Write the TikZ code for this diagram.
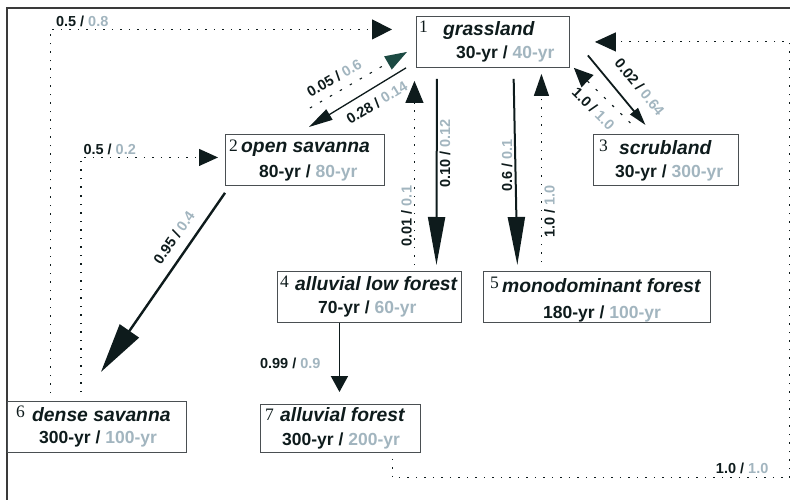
\documentclass[tikz,border=0pt]{standalone}
\usepackage{fontspec}
\setmainfont{Liberation Sans}
\newfontfamily\numserif{Liberation Serif}
\usetikzlibrary{arrows.meta}
\definecolor{inkdark}{HTML}{0E1B1C}
\definecolor{agegray}{HTML}{A2B5BF}
\definecolor{headgreen}{HTML}{1C4A43}
\definecolor{boxline}{HTML}{4A4F52}
\definecolor{framegray}{HTML}{3A3A3A}

\begin{document}
\begin{tikzpicture}[
  x=1pt, y=-1pt,
  statebox/.style={
    draw=boxline,
    line width=0.9pt,
    inner sep=0pt,
    anchor=north west
  },
  numtext/.style={font=\numserif\fontsize{17.5}{17.5}\selectfont, inner sep=0pt, anchor=base west, text=inkdark},
  nametext/.style={font=\bfseries\itshape\fontsize{19.3}{19.3}\selectfont, inner sep=0pt, anchor=base west, text=inkdark},
  agetext/.style={font=\bfseries\fontsize{17.5}{17.5}\selectfont, inner sep=0pt, anchor=base west, text=inkdark},
  ratelbl/.style={font=\bfseries\fontsize{14.5}{14.5}\selectfont, inner sep=2pt, text=inkdark},
  solidarrow/.style={draw=inkdark, fill=inkdark},
  dotline/.style={draw=inkdark, line width=1.1pt, dash pattern=on 1.5pt off 7pt},
  dashline/.style={draw=inkdark, line width=1.1pt, dash pattern=on 2.5pt off 9pt},
  framerule/.style={draw=framegray, line width=1.3pt}
]
\useasboundingbox (0,0) rectangle (790,500);

  % --- Frame ---
  \draw[framerule] (7,500) -- (7,8) -- (790,8);

  % --- 1: grassland ---
  \node[statebox, minimum width=153pt, minimum height=51pt] (grass) at (416,16) {};
  \node[numtext] (grassnum) at (419,33) {1};
  \node[nametext] (grassname) at (443,36) {grassland};
  \node[agetext] (grassage) at (456,59) {30-yr / \textcolor{agegray}{40-yr}};

  % --- 2: open savanna ---
  \node[statebox, minimum width=159pt, minimum height=51pt] (opensav) at (225,134) {};
  \node[numtext] (opensavnum) at (229,152) {2};
  \node[nametext] (opensavname) at (241,153) {open savanna};
  \node[agetext] (opensavage) at (259,178) {80-yr / \textcolor{agegray}{80-yr}};

  % --- 3: scrubland ---
  \node[statebox, minimum width=145pt, minimum height=51pt] (scrub) at (593,134) {};
  \node[numtext] (scrubnum) at (599,152) {3};
  \node[nametext] (scrubname) at (619,155) {scrubland};
  \node[agetext] (scrubage) at (615,178) {30-yr / \textcolor{agegray}{300-yr}};

  % --- 4: alluvial low forest ---
  \node[statebox, minimum width=184pt, minimum height=51pt] (lowfor) at (277,271) {};
  \node[numtext] (lowfornum) at (280,287) {4};
  \node[nametext] (lowforname) at (295,290) {alluvial low forest};
  \node[agetext] (lowforage) at (318,313) {70-yr / \textcolor{agegray}{60-yr}};

  % --- 5: monodominant forest ---
  \node[statebox, minimum width=227pt, minimum height=51pt] (monofor) at (483,271) {};
  \node[numtext] (monofornum) at (490,288) {5};
  \node[nametext] (monoforname) at (502,292) {monodominant forest};
  \node[agetext] (monoforage) at (543,318) {180-yr / \textcolor{agegray}{100-yr}};

  % --- 6: dense savanna ---
  \node[statebox, minimum width=179pt, minimum height=51pt] (densesav) at (7,401) {};
  \node[numtext] (densesavnum) at (16,417) {6};
  \node[nametext] (densesavname) at (32,421) {dense savanna};
  \node[agetext] (densesavage) at (39,443) {300-yr / \textcolor{agegray}{100-yr}};

  % --- 7: alluvial forest ---
  \node[statebox, minimum width=160pt, minimum height=48pt] (allufor) at (260,404) {};
  \node[numtext] (allufornum) at (265,420) {7};
  \node[nametext] (alluforname) at (280,421) {alluvial forest};
  \node[agetext] (alluforage) at (282,445) {300-yr / \textcolor{agegray}{200-yr}};

  % Transitions (solid)
  \draw[solidarrow, line width=2.4pt, -{Triangle[length=50pt,width=23pt]}]
    ([yshift=-7pt]opensav.south west) -- node[ratelbl, pos=0.25, xshift=-20pt, rotate=55] {0.95 / \textcolor{agegray}{0.4}} ([xshift=4pt,yshift=29pt]densesav.north);
  \draw[solidarrow, line width=1.3pt, -{Triangle[length=24pt,width=12pt]}]
    ([xshift=-10pt]grass.south west) -- node[ratelbl, pos=0.3, yshift=-17pt, rotate=31.5] {0.28 / \textcolor{agegray}{0.14}} ([xshift=4pt,yshift=7pt]opensav.north);
  \draw[solidarrow, line width=2pt, shorten <=11pt, shorten >=6pt, -{Triangle[length=48pt,width=17pt]}]
    ([xshift=-56pt]grass.south) -- node[ratelbl, rotate=90, anchor=north, xshift=6pt, pos=0.45] {0.10 / \textcolor{agegray}{0.12}} ([xshift=67pt]lowfor.north);
  \draw[solidarrow, line width=2pt, shorten <=11pt, shorten >=6pt, -{Triangle[length=48pt,width=17pt]}]
    ([xshift=20.5pt]grass.south) -- node[ratelbl, rotate=90, anchor=south, pos=0.48] {0.6 / \textcolor{agegray}{0.1}} ([xshift=-79.5pt]monofor.north);
  \draw[solidarrow, line width=1.8pt, -{Triangle[length=18pt,width=10pt]}]
    ([xshift=18pt,yshift=-13.5pt]grass.east) -- node[ratelbl, pos=0.64, xshift=15pt, yshift=13pt, rotate=-50.4] {0.02 / \textcolor{agegray}{0.64}} ([xshift=-20.5pt,yshift=9pt]scrub.north);
  \draw[solidarrow, line width=1.8pt, shorten >=12pt, -{Triangle[length=16pt,width=17pt]}]
    ([xshift=-30pt]lowfor.south) -- node[ratelbl, left=16pt, pos=0.5] {0.99 / \textcolor{agegray}{0.9}} ([xshift=-1pt]allufor.north);

  % Transitions (dotted / dashed)
  \draw[dashline, -{Triangle[length=22pt,width=15pt,color=headgreen]}]
    ([xshift=5pt,yshift=26pt]opensav.north) -- node[ratelbl, pos=0.25, yshift=16pt, rotate=30] {0.05 / \textcolor{agegray}{0.6}} ([xshift=-9pt,yshift=-10pt]grass.west);
  \draw[dotline, shorten <=6pt, shorten >=13pt, -{Triangle[length=22pt,width=18pt]}]
    ([xshift=45pt]lowfor.north) -- node[ratelbl, rotate=90, anchor=south, pos=0.27] {0.01 / \textcolor{agegray}{0.1}} ([xshift=-78.5pt]grass.south);
  \draw[dotline, shorten <=9pt, shorten >=6pt, -{Triangle[length=22pt,width=15pt]}]
    ([xshift=-55.5pt]monofor.north) -- node[ratelbl, rotate=90, anchor=north, xshift=5pt, pos=0.27] {1.0 / \textcolor{agegray}{1.0}} ([xshift=48.5pt]grass.south);
  \draw[dashline, -{Triangle[length=19pt,width=17pt]}]
    ([xshift=-35.5pt,yshift=11pt]scrub.north) -- node[ratelbl, pos=0.46, xshift=-11pt, yshift=-11pt, rotate=-44.5] {1.0 / \textcolor{agegray}{1.0}} ([xshift=4pt]grass.south east);
  \draw[dotline, shorten <=8pt, shorten >=24pt, -{Triangle[length=20pt,width=20pt]}]
    ([xshift=-46.5pt]densesav.north) |- node[ratelbl, pos=0.5, anchor=south west, xshift=3pt] {0.5 / \textcolor{agegray}{0.8}} ([yshift=12.5pt]grass.west);
  \draw[dotline, shorten <=9pt, shorten >=7pt, -{Triangle[length=19pt,width=17pt]}]
    ([xshift=-16pt]densesav.north) |- node[ratelbl, pos=0.5, anchor=south west] {0.5 / \textcolor{agegray}{0.2}} ([yshift=2.5pt]opensav.west);
  \draw[dotline, shorten <=6pt, shorten >=25pt, -{Triangle[length=21pt,width=19pt]}]
    ([xshift=52pt]allufor.south) -- ++(0,25) -| node[ratelbl, pos=0.5, anchor=south east, xshift=-19pt, yshift=2pt] {1.0 / \textcolor{agegray}{1.0}} ([xshift=220pt]grass.east) -- (grass.east);

\end{tikzpicture}
\end{document}
